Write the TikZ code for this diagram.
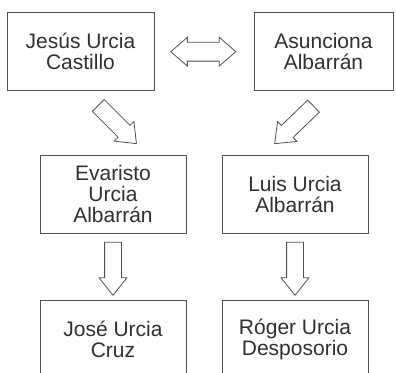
\documentclass[tikz,border=0pt]{standalone}
\usepackage{fontspec}
\setmainfont{Liberation Sans}
\usetikzlibrary{shapes.arrows}
\definecolor{linegray}{HTML}{505050}
\definecolor{textgray}{HTML}{303030}

\begin{document}
\begin{tikzpicture}[x=1pt,y=-1pt,
  person/.style={draw=linegray, line width=0.9pt, minimum width=146pt,
    minimum height=78pt, align=center, text=textgray,
    font=\fontsize{21}{21}\selectfont},
  fatarrow/.style={draw=linegray, line width=0.8pt, single arrow,
    minimum height=54pt, inner sep=0pt, text height=8pt, text depth=8pt,
    single arrow head extend=5.5pt, single arrow tip angle=77},
  bothways/.style={draw=linegray, line width=0.8pt, double arrow,
    minimum height=65pt, inner sep=0pt, text height=9pt, text depth=9pt,
    double arrow head extend=5pt, double arrow tip angle=82}]

  \clip (0,0) rectangle (396,372);

  % parents
  \node[person, minimum width=147pt] (jesus) at (80.5,51) {Jesús Urcia\\Castillo};
  \node[person, minimum width=139pt] (asuncion) at (323.5,51) {Asunciona\\Albarrán};

  % children
  \node[person] (evaristo) at (113,194) {Evaristo\\Urcia\\Albarrán};
  \node[person] (luis) at (295,194) {Luis Urcia\\Albarrán};

  % grandchildren
  \node[person] (jose) at (113,339) {José Urcia\\Cruz};
  \node[person] (roger) at (295,339) {Róger Urcia\\Desposorio};

  \node[bothways] (marriage) at (203.3,51.7) {};

  \node[fatarrow, rotate=-45] (jesustoev) at (113.6,120.8) {};
  \node[fatarrow, rotate=-136] (asutoluis) at (297.9,121.2) {};

  \node[fatarrow, minimum height=53pt, rotate=-90] (evtojose) at (113,263.5) {};
  \node[fatarrow, minimum height=53pt, rotate=-90] (luistoroger) at (295,263.5) {};

\end{tikzpicture}
\end{document}
